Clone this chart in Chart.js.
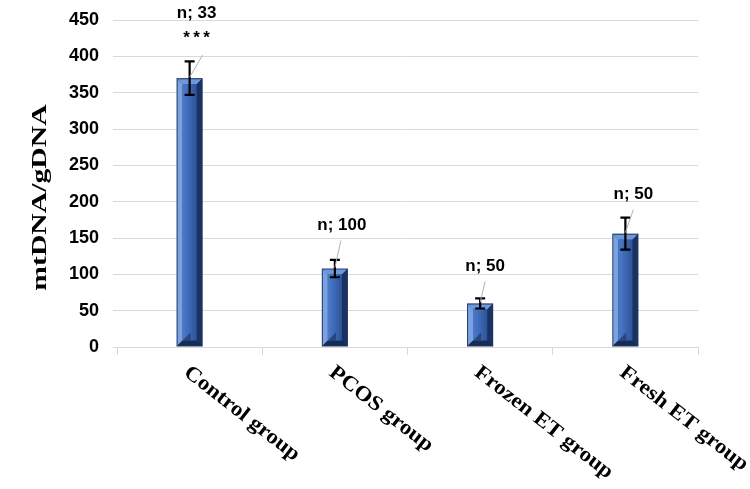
<!DOCTYPE html>
<html>
<head>
<meta charset="utf-8">
<script src="https://cdn.jsdelivr.net/npm/chart.js@4.4.9/dist/chart.umd.min.js"></script>
<style>
  html, body { margin: 0; background: #fff; }
  #wrap { width: 750px; height: 489px; }
</style>
</head>
<body>
<div id="wrap"><canvas id="c"></canvas></div>
<script>
/* data */
const groups   = ['Control group', 'PCOS group', 'Frozen ET group', 'Fresh ET group'];
const means    = [370, 108, 60, 156];
const errors   = [23, 12, 7, 22];
const nLabels  = ['n; 33', 'n; 100', 'n; 50', 'n; 50'];
const signif   = ['***', '', '', ''];
const yMin = 0, yMax = 450, yStep = 50;

/* label placement (pixels from bar top) */
const labelPos = [
  { dx: 7, dy: -65, lx: 13, ly: -23 },
  { dx: 7, dy: -43, lx: 6,  ly: -28 },
  { dx: 5, dy: -37, lx: 5,  ly: -22 },
  { dx: 8, dy: -39, lx: 8,  ly: -24 }
];

const SERIF = '"Liberation Serif", "Times New Roman", serif';
const SANS  = '"Liberation Sans", Arial, sans-serif';

/* bevelled bar, error bars, labels */
function bevel(ctx, x, y, w, h) {
  const b = Math.min(5, h / 3);
  ctx.save();
  ctx.fillStyle = '#1f3864';
  ctx.fillRect(x, y, w, h);
  const face = ctx.createLinearGradient(x, 0, x + w, 0);
  face.addColorStop(0, '#5b8ad6');
  face.addColorStop(0.45, '#3f6bbb');
  face.addColorStop(1, '#22417c');
  const poly = (pts, fill) => {
    ctx.beginPath();
    ctx.moveTo(pts[0][0], pts[0][1]);
    pts.slice(1).forEach(p => ctx.lineTo(p[0], p[1]));
    ctx.closePath();
    ctx.fillStyle = fill; ctx.fill();
  };
  const x1 = x + 1, y1 = y + 1, x2 = x + w - 1, y2 = y + h - 1;
  poly([[x1, y1], [x2, y1], [x2 - b, y1 + b], [x1 + b, y1 + b]], '#6f97dc');
  poly([[x1, y1], [x1 + b, y1 + b], [x1 + b, y2 - b], [x1, y2]], '#7aa2e2');
  poly([[x2, y1], [x2, y2], [x2 - b, y2 - b], [x2 - b, y1 + b]], '#1a3262');
  poly([[x1, y2], [x1 + b, y2 - b], [x2 - b, y2 - b], [x2, y2]], '#162c56');
  ctx.fillStyle = face;
  ctx.fillRect(x1 + b, y1 + b, w - 2 - 2 * b, h - 2 - 2 * b);
  poly([[x1 + b, y2 - b], [x1 + b + 8, y2 - b - 8], [x1 + b + 8, y2 - b]], 'rgba(20,40,80,0.55)');
  ctx.restore();
}

const overlay = {
  id: 'overlay',
  afterDatasetsDraw(chart) {
    const ctx = chart.ctx, ys = chart.scales.y, area = chart.chartArea;
    const meta = chart.getDatasetMeta(0);
    meta.data.forEach((bar, i) => {
      const p = bar.getProps(['x', 'y', 'base', 'width'], true);
      bevel(ctx, p.x - p.width / 2, p.y, p.width, p.base - p.y);

      // error bar
      const hi = ys.getPixelForValue(means[i] + errors[i]);
      const lo = ys.getPixelForValue(means[i] - errors[i]);
      ctx.save();
      ctx.strokeStyle = '#000'; ctx.lineWidth = 2.2;
      ctx.beginPath();
      ctx.moveTo(p.x, hi); ctx.lineTo(p.x, lo);
      ctx.moveTo(p.x - 5, hi); ctx.lineTo(p.x + 5, hi);
      ctx.moveTo(p.x - 5, lo); ctx.lineTo(p.x + 5, lo);
      ctx.stroke();
      ctx.restore();

      // leader line + data label
      const lp = labelPos[i];
      ctx.save();
      ctx.strokeStyle = '#b0b0b0'; ctx.lineWidth = 1;
      ctx.beginPath();
      ctx.moveTo(p.x + lp.lx, p.y + lp.ly);
      ctx.lineTo(p.x, p.y - 1);
      ctx.stroke();
      ctx.fillStyle = '#000';
      ctx.font = 'bold 17px ' + SANS;
      ctx.textAlign = 'center'; ctx.textBaseline = 'middle';
      ctx.fillText(nLabels[i], p.x + lp.dx, p.y + lp.dy);
      if (signif[i]) {
        const n = signif[i].length;
        for (let k = 0; k < n; k++) {
          ctx.fillText('*', p.x + lp.dx + (k - (n - 1) / 2) * 10, p.y + lp.dy + 25);
        }
      }
      ctx.restore();

      // rotated category label
      ctx.save();
      ctx.translate(p.x + 3, area.bottom + 15);
      ctx.rotate(38 * Math.PI / 180);
      ctx.scale(1.1, 1);
      ctx.font = 'bold 21px ' + SERIF;
      ctx.fillStyle = '#000';
      ctx.textAlign = 'left'; ctx.textBaseline = 'top';
      ctx.fillText(groups[i], 0, 0);
      ctx.restore();
    });

    // y axis title
    ctx.save();
    ctx.translate(40, (area.top + area.bottom) / 2 + 14);
    ctx.rotate(-Math.PI / 2);
    ctx.scale(1.35, 1);
    ctx.font = 'bold 22px ' + SERIF;
    ctx.fillStyle = '#000';
    ctx.textAlign = 'center'; ctx.textBaseline = 'middle';
    ctx.fillText('mtDNA/gDNA', 0, 0);
    ctx.restore();
  }
};

new Chart(document.getElementById('c'), {
  type: 'bar',
  data: {
    labels: groups,
    datasets: [{
      data: means,
      backgroundColor: 'rgba(0,0,0,0)',
      borderWidth: 0,
      barPercentage: 0.18,
      categoryPercentage: 1
    }]
  },
  options: {
    responsive: true,
    maintainAspectRatio: false,
    animation: false,
    devicePixelRatio: 1,
    layout: { padding: { top: 20, right: 52, left: 0, bottom: 0 } },
    plugins: { legend: { display: false }, tooltip: { enabled: false } },
    scales: {
      x: {
        offset: true,
        border: { display: true, color: '#d9d9d9', width: 1 },
        grid: { offset: true, drawOnChartArea: false, drawTicks: true, tickLength: 8, color: '#d9d9d9' },
        ticks: { display: false },
        afterFit: s => { s.height = 142; s.paddingLeft = 0; s.paddingRight = 0; }
      },
      y: {
        min: yMin, max: yMax,
        border: { display: false },
        grid: { color: '#d9d9d9', tickLength: 4, drawTicks: true },
        ticks: {
          stepSize: yStep,
          padding: 14,
          color: '#000',
          font: { family: SANS, weight: 'bold', size: 18 }
        },
        afterFit: s => { s.width = 117; s.paddingTop = 0; s.paddingBottom = 0; }
      }
    }
  },
  plugins: [overlay]
});
</script>
</body>
</html>
